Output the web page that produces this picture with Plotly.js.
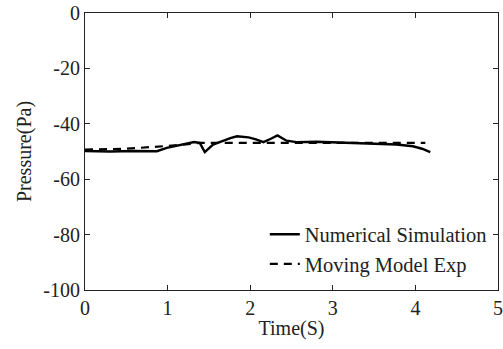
<!DOCTYPE html>
<html>
<head>
<meta charset="utf-8">
<script src="https://cdn.plot.ly/plotly-3.0.1.min.js"></script>
<style>html,body{margin:0;padding:0;background:#fff;}#chart{width:503px;height:349px;}</style>
</head>
<body>
<div id="chart"></div>
<script>
// Numerical Simulation (solid)
const simTime = [0.0, 0.3, 0.6, 0.87, 0.99, 1.1, 1.2, 1.32, 1.39, 1.45, 1.55, 1.67, 1.76, 1.84, 1.98, 2.07, 2.16, 2.25, 2.33, 2.44, 2.56, 2.8, 3.16, 3.5, 3.77, 3.97, 4.08, 4.18];
const simPressure = [-49.8, -50.0, -49.8, -49.9, -48.7, -48.0, -47.3, -46.6, -46.9, -50.2, -47.5, -46.1, -45.2, -44.5, -44.9, -45.6, -46.6, -45.4, -44.2, -46.1, -46.6, -46.5, -46.9, -47.1, -47.5, -48.1, -49.0, -50.2];
// Moving Model Exp (dashed)
const expTime = [0.0, 0.5, 1.0, 1.4, 2.0, 3.0, 4.0, 4.12];
const expPressure = [-49.3, -49.0, -48.0, -46.9, -46.9, -46.9, -46.9, -46.9];

const xTicks = [0, 1, 2, 3, 4, 5];
const yTicks = [-100, -80, -60, -40, -20, 0];

const fontFam = '"Liberation Serif", "Times New Roman", serif';
const fs = 20;

const traces = [
  {x: simTime, y: simPressure, mode: 'lines', name: 'Numerical Simulation',
   line: {color: '#000', width: 2.4}},
  {x: expTime, y: expPressure, mode: 'lines', name: 'Moving Model Exp',
   line: {color: '#000', width: 2.2, dash: '8px,6px'}}
];

const axisCommon = {
  showgrid: false, zeroline: false, showline: true, linecolor: '#222', linewidth: 1,
  mirror: 'ticks', ticks: 'inside', ticklen: 5, tickcolor: '#222',
  tickfont: {family: fontFam, size: fs, color: '#222'}
};

const layout = {
  width: 503, height: 349,
  margin: {l: 85, r: 5, t: 13, b: 59},
  paper_bgcolor: '#fff', plot_bgcolor: '#fff',
  font: {family: fontFam, color: '#222'},
  showlegend: true,
  legend: {x: 0.985, y: 0.02, xanchor: 'right', yanchor: 'bottom',
           bgcolor: 'rgba(255,255,255,0)', borderwidth: 0,
           font: {family: fontFam, size: 20.5, color: '#222'},
           tracegroupgap: 0, itemwidth: 30},
  xaxis: Object.assign({}, axisCommon, {
    range: [0, 5], tickvals: xTicks, ticktext: xTicks.map(String),
    title: {text: 'Time(S)', font: {family: fontFam, size: fs, color: '#222'}, standoff: 2}
  }),
  yaxis: Object.assign({}, axisCommon, {
    range: [-100, 0], tickvals: yTicks, ticktext: yTicks.map(String),
    title: {text: 'Pressure(Pa)', font: {family: fontFam, size: fs, color: '#222'}, standoff: 6}
  })
};

Plotly.newPlot('chart', traces, layout, {displayModeBar: false, staticPlot: true});
</script>
</body>
</html>
